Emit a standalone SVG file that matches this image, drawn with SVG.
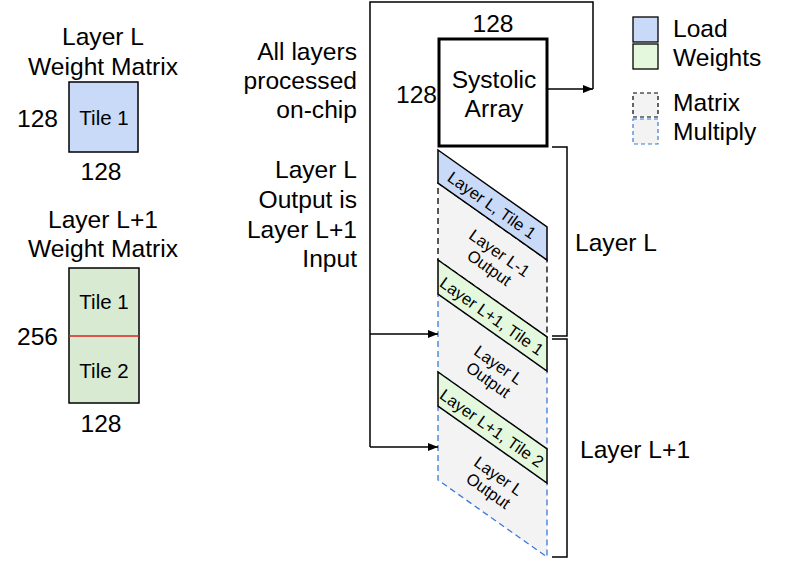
<svg xmlns="http://www.w3.org/2000/svg" width="796" height="561" viewBox="0 0 796 561">
<style>
text{font-family:"Liberation Sans",Arial,sans-serif;fill:#000}
.t22{font-size:24.6px}
.t18{font-size:20.5px}
.t14{font-size:16.5px}
.mid{text-anchor:middle}
.end{text-anchor:end}
.blue{fill:#c9daf8;stroke:#000;stroke-width:1.5}
.green{fill:#e4f8dd;stroke:#000;stroke-width:1.5}
.gdash{fill:#f3f3f3;stroke:#000;stroke-width:1.3;stroke-dasharray:6,4}
.bdash{fill:#f3f3f3;stroke:#3c78d8;stroke-width:1.3;stroke-dasharray:6,4}
.line{fill:none;stroke:#000;stroke-width:1.5}
</style>
<defs>
<marker id="arr" markerWidth="10" markerHeight="8" refX="10" refY="4" orient="auto" markerUnits="userSpaceOnUse">
<path d="M0,0 L10,4 L0,8 Z" fill="#000"/>
</marker>
</defs>
<rect width="796" height="561" fill="#fff"/>

<g id="layerL-matrix">
<text class="t22 mid" x="103" y="45">Layer L</text>
<text class="t22 mid" x="103" y="75">Weight Matrix</text>
<rect x="69" y="82" width="69" height="70" fill="#c9daf8" stroke="#000" stroke-width="1.5"/>
<text class="t18 mid" x="104" y="125">Tile 1</text>
<text class="t22" x="17" y="127">128</text>
<text class="t22 mid" x="101" y="180">128</text>
</g>

<g id="layerL1-matrix">
<text class="t22 mid" x="103" y="228">Layer L+1</text>
<text class="t22 mid" x="103" y="257">Weight Matrix</text>
<rect x="69" y="268" width="70" height="135" fill="#d9ead3" stroke="#000" stroke-width="1.5"/>
<line x1="69" y1="336" x2="139" y2="336" stroke="#e02020" stroke-width="1.5"/>
<text class="t18 mid" x="104" y="309">Tile 1</text>
<text class="t18 mid" x="104" y="378">Tile 2</text>
<text class="t22" x="17" y="345">256</text>
<text class="t22 mid" x="101" y="432">128</text>
</g>

<g id="notes">
<text class="t22 end" x="357" y="60">All layers</text>
<text class="t22 end" x="357" y="89">processed</text>
<text class="t22 end" x="357" y="118">on-chip</text>
<text class="t22 end" x="357" y="178">Layer L</text>
<text class="t22 end" x="357" y="208">Output is</text>
<text class="t22 end" x="357" y="238">Layer L+1</text>
<text class="t22 end" x="357" y="267">Input</text>
</g>

<g id="systolic-array">
<rect x="439" y="39" width="108" height="107" fill="#fff" stroke="#000" stroke-width="3"/>
<text class="t22 mid" x="494" y="88">Systolic</text>
<text class="t22 mid" x="494" y="117">Array</text>
<text class="t22 mid" x="493" y="32">128</text>
<text class="t22" x="396" y="103">128</text>
</g>

<g id="grey-layerLm1-output">
<polygon class="gdash" points="438,183 547,260 547,337 438,260"/>
<text class="t14 mid" transform="translate(494,261) rotate(35.2)"><tspan x="0" y="-4">Layer L-1</tspan><tspan x="0" y="14">Output</tspan></text>
</g>
<g id="grey-layerL-output-1">
<polygon class="bdash" points="438,294 547,371 547,449 438,372"/>
<text class="t14 mid" transform="translate(493,373) rotate(35.2)"><tspan x="0" y="-4">Layer L</tspan><tspan x="0" y="14">Output</tspan></text>
</g>
<g id="grey-layerL-output-2">
<polygon class="bdash" points="438,406 547,483 547,557 438,480"/>
<text class="t14 mid" transform="translate(493,484) rotate(35.2)"><tspan x="0" y="-4">Layer L</tspan><tspan x="0" y="14">Output</tspan></text>
</g>
<g id="load-layerL-tile1">
<polygon class="blue" points="438,150 547,227 547,260 438,183"/>
<text class="t14 mid" transform="translate(492,205) rotate(35.2)" y="6">Layer L, Tile 1</text>
</g>
<g id="load-layerL1-tile1">
<polygon class="green" points="438,260 547,337 547,371 438,294"/>
<text class="t14 mid" transform="translate(492,316) rotate(35.2)" y="6">Layer L+1, Tile 1</text>
</g>
<g id="load-layerL1-tile2">
<polygon class="green" points="438,372 547,449 547,483 438,406"/>
<text class="t14 mid" transform="translate(492,428) rotate(35.2)" y="6">Layer L+1, Tile 2</text>
</g>

<g id="brackets">
<polyline class="line" points="552,147 567,147 567,336 552,336"/>
<polyline class="line" points="552,339 567,339 567,557 552,557"/>
<text class="t22" x="575" y="251">Layer L</text>
<text class="t22" x="580" y="458">Layer L+1</text>
</g>

<g id="legend">
<rect x="633" y="17" width="25" height="25" fill="#c9daf8" stroke="#000" stroke-width="1.3"/>
<rect x="633" y="44" width="25" height="25" fill="#e4f8dd" stroke="#000" stroke-width="1.3"/>
<rect x="633" y="93" width="25" height="24" fill="#f3f3f3" stroke="#000" stroke-width="1.2" stroke-dasharray="4,3"/>
<rect x="633" y="119" width="25" height="25" fill="#f3f3f3" stroke="#3c78d8" stroke-width="1.2" stroke-dasharray="4,3"/>
<text class="t22" x="673" y="37">Load</text>
<text class="t22" x="673" y="66">Weights</text>
<text class="t22" x="673" y="111">Matrix</text>
<text class="t22" x="673" y="140">Multiply</text>
</g>

<g id="connectors">
<polyline class="line" points="547,89 593,89" marker-end="url(#arr)"/>
<polyline class="line" points="593,89 593,2 370,2 370,447"/>
<line class="line" x1="370" y1="334" x2="438" y2="334" marker-end="url(#arr)"/>
<line class="line" x1="370" y1="447" x2="438" y2="447" marker-end="url(#arr)"/>
</g>
</svg>
